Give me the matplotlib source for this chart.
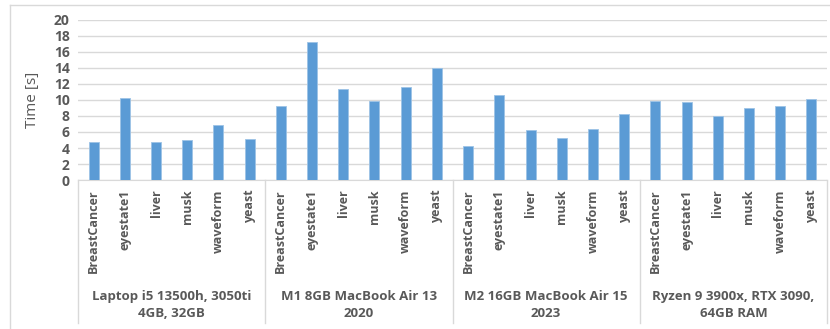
import numpy as np
import matplotlib.pyplot as plt
from matplotlib.lines import Line2D
import matplotlib.transforms as mtransforms


#- Data:

datasets = ['BreastCancer', 'eyestate1', 'liver', 'musk', 'waveform', 'yeast']
machines = ['Laptop i5 13500h, 3050ti\n4GB, 32GB',
            'M1 8GB MacBook Air 13\n2020',
            'M2 16GB MacBook Air 15\n2023',
            'Ryzen 9 3900x, RTX 3090,\n64GB RAM']
laptop_times = [4.7, 10.2, 4.8, 5.0, 6.9, 5.1]
m1_times = [9.2, 17.2, 11.4, 9.9, 11.6, 14.0]
m2_times = [4.2, 10.6, 6.25, 5.2, 6.4, 8.3]
ryzen_times = [9.9, 9.8, 8.0, 9.0, 9.2, 10.1]
y_ticks = [0, 2, 4, 6, 8, 10, 12, 14, 16, 18, 20]


#- Build flat arrays:

times = laptop_times + m1_times + m2_times + ryzen_times
labels = datasets * len(machines)
xpos = np.arange(len(times))

text_col = '#595959'
grid_col = '#D9D9D9'
plt.rcParams['font.family'] = ['Open Sans', 'DejaVu Sans']

W, H = 830, 329
fig = plt.figure(figsize=(W / 100, H / 100), dpi=100)
left, right, top, bottom = 78, 827, 20, 180
ax = fig.add_axes([left / W, 1 - bottom / H, (right - left) / W, (bottom - top) / H])

ax.bar(xpos, times, width=0.32, color='#5B9BD5', edgecolor='#9DC3E6',
       linewidth=0.6, zorder=3)

ax.set_xlim(-0.5, len(times) - 0.5)
ax.set_ylim(0, 20)
ax.set_yticks(y_ticks)
ax.yaxis.grid(True, color=grid_col, linewidth=1.0, zorder=0)
ax.set_xticks(xpos)
ax.set_xticklabels(labels, rotation=90, fontsize=9, fontweight='bold',
                   color=text_col)
ax.tick_params(axis='x', length=0, pad=7)
ax.tick_params(axis='y', length=0, pad=6, labelcolor=text_col, labelsize=10)
for lab in ax.get_yticklabels():
    lab.set_fontweight('bold')
for s in ['top', 'right', 'left']:
    ax.spines[s].set_visible(False)
ax.spines['bottom'].set_color(grid_col)
ax.set_ylabel('Time [s]', fontsize=11, color=text_col, labelpad=10)

#- Group separators and group labels:

trans = mtransforms.blended_transform_factory(ax.transData, ax.transAxes)
sep_bottom = -(323 - bottom) / (bottom - top)
for k in range(len(machines) + 1):
    xs = k * len(datasets) - 0.5
    ax.add_line(Line2D([xs, xs], [0, sep_bottom], transform=trans,
                       color=grid_col, linewidth=1.0, clip_on=False))
for k, name in enumerate(machines):
    xc = k * len(datasets) + (len(datasets) - 1) / 2
    ax.text(xc, -(305 - bottom) / (bottom - top), name, transform=trans,
            ha='center', va='center', fontsize=9.5, fontweight='bold',
            color=text_col, linespacing=1.35)

#- Outer chart border (top and left visible):

fig.add_artist(Line2D([10 / W, 1], [1 - 5 / H, 1 - 5 / H], color=grid_col,
                      linewidth=1.0))
fig.add_artist(Line2D([10 / W, 10 / W], [0, 1 - 5 / H], color=grid_col,
                      linewidth=1.0))

fig.savefig('out.png', dpi=100)
